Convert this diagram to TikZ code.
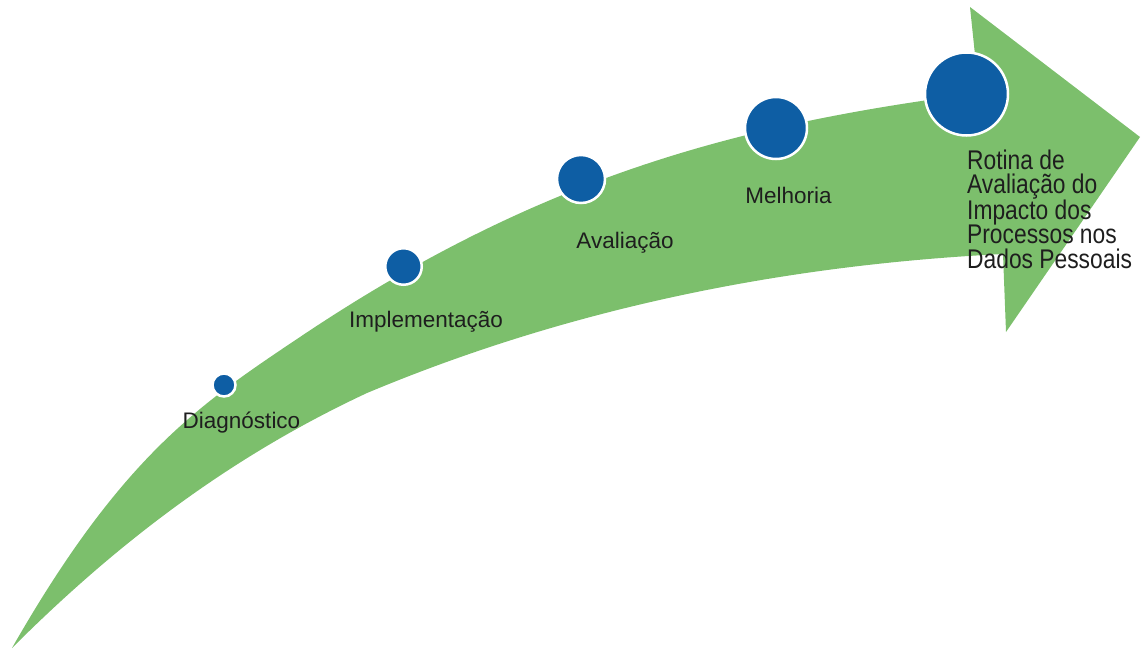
\documentclass[tikz,border=0pt]{standalone}
\usepackage{fontspec}
\setmainfont{Liberation Sans}
\definecolor{arrowgreen}{RGB}{124,191,108}
\definecolor{dotblue}{RGB}{14,94,164}
\definecolor{labeltext}{RGB}{30,30,30}
\tikzset{
  dot/.style={circle, fill=dotblue, draw=white, line width=2.5pt, inner sep=0pt},
  lbl/.style={text=labeltext, inner sep=0pt, font=\fontsize{22.5}{27}\selectfont, anchor=base},
  biglbl/.style={text=labeltext, inner sep=0pt, font=\fontsize{27}{24.2}\selectfont, align=left, anchor=base west, xscale=0.845, transform shape}
}
\begin{document}
\begin{tikzpicture}[x=1pt,y=-1pt]
\useasboundingbox (0,0) rectangle (1141,653);
% arrow body
\fill[arrowgreen]
  (12,648) .. controls (122,455.5) and (200,404) .. (300,337)
  .. controls (540,176) and (739,124) .. (979,93)
  -- (970,7) -- (1140,137) -- (1006,332) -- (1003,254)
  .. controls (793,264.5) and (577,305) .. (367,393)
  .. controls (247,449) and (132,528) .. (12,648)
  -- cycle;
% milestones
\node[dot, minimum size=23] (d1) at (224,385) {};
\node[dot, minimum size=36.5] (d2) at (403.5,266.5) {};
\node[dot, minimum size=48] (d3) at (581,179) {};
\node[dot, minimum size=62] (d4) at (776,128) {};
\node[dot, minimum size=83] (d5) at (966.5,94) {};
% labels
\node[lbl] (t1) at (241.5,428) {Diagnóstico};
\node[lbl] (t2) at (426,327) {Implementação};
\node[lbl] (t3) at (625,248) {Avaliação};
\node[lbl] (t4) at (788.5,203) {Melhoria};
\node[biglbl] (t5) at (967,268) {Rotina de\\Avaliação do\\Impacto dos\\Processos nos\\Dados Pessoais};
\end{tikzpicture}
\end{document}
